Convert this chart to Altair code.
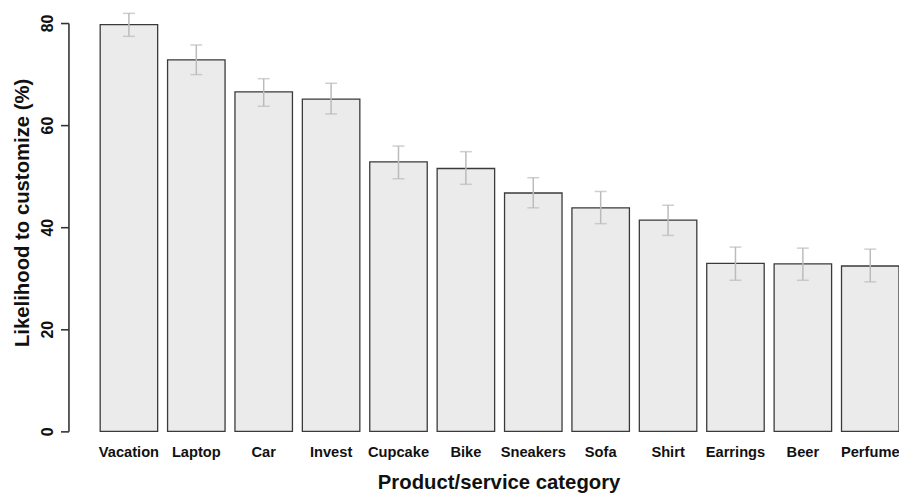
import altair as alt
import pandas as pd

categories = ["Vacation", "Laptop", "Car", "Invest", "Cupcake", "Bike",
              "Sneakers", "Sofa", "Shirt", "Earrings", "Beer", "Perfume"]
means = [79.7, 72.8, 66.5, 65.1, 52.8, 51.5, 46.7, 43.8, 41.4, 32.9, 32.8, 32.4]
err_lo = [77.4, 69.9, 63.7, 62.2, 49.5, 48.4, 43.8, 40.7, 38.4, 29.6, 29.6, 29.3]
err_hi = [81.9, 75.7, 69.1, 68.2, 55.9, 54.8, 49.7, 47.0, 44.3, 36.1, 35.9, 35.7]
y_ticks = [0, 20, 40, 60, 80]

df = pd.DataFrame({"cat": categories, "mean": means, "lo": err_lo, "hi": err_hi})

FONT = "Liberation Sans"

x_scale = alt.Scale(range=[32, 838], paddingInner=10 / 68, paddingOuter=0)
y_scale = alt.Scale(domain=[0, 80], nice=False, zero=True)

x_enc = alt.X(
    "cat:N", sort=categories, scale=x_scale,
    axis=alt.Axis(
        title="Product/service category", labelAngle=0, domain=False, ticks=False,
        labelPadding=13, labelFont=FONT, labelFontSize=14.8, labelFontWeight="bold",
        labelColor="#111111",
        titleFont=FONT, titleFontSize=20.5, titleFontWeight="bold", titleColor="#111111",
        titleX=434, titleY=57.5, titleBaseline="alphabetic", titleAlign="center",
        grid=False,
    ),
)

bars = alt.Chart(df).mark_bar(
    fill="#ebebeb", stroke="#3a3a3a", strokeWidth=1.3
).encode(
    x=x_enc,
    y=alt.Y(
        "mean:Q", scale=y_scale,
        axis=alt.Axis(
            title="Likelihood to customize (%)", values=y_ticks, grid=False,
            domain=True, domainColor="#333333", domainWidth=1.6,
            ticks=True, tickSize=8, tickColor="#333333", tickWidth=1.6,
            labelAngle=270, labelAlign="center", labelBaseline="alphabetic",
            labelPadding=8, labelFont=FONT, labelFontSize=16, labelFontWeight="bold",
            labelColor="#111111",
            titleFont=FONT, titleFontSize=20.5, titleFontWeight="bold", titleColor="#111111",
            titleAngle=270, titleX=-40, titleY=191, titleAlign="center",
            titleBaseline="alphabetic",
        ),
    ),
)

rules = alt.Chart(df).mark_rule(color="#bbbbbb", strokeWidth=1.5).encode(
    x=alt.X("cat:N", sort=categories),
    y=alt.Y("lo:Q", scale=y_scale),
    y2="hi:Q",
)

cap_lo = alt.Chart(df).mark_tick(
    color="#bbbbbb", size=12, thickness=1.5, orient="horizontal"
).encode(x=alt.X("cat:N", sort=categories), y=alt.Y("lo:Q", scale=y_scale))

cap_hi = alt.Chart(df).mark_tick(
    color="#bbbbbb", size=12, thickness=1.5, orient="horizontal"
).encode(x=alt.X("cat:N", sort=categories), y=alt.Y("hi:Q", scale=y_scale))

chart = alt.layer(bars, rules, cap_lo, cap_hi).properties(
    width=838, height=412,
    background="white",
    autosize=alt.AutoSizeParams(type="none"),
    padding={"left": 61, "top": 13, "right": 0, "bottom": 60},
).configure_view(
    stroke="transparent", strokeWidth=0
).configure_axis(grid=False)

chart.save("out.html", embed_options={"renderer": "svg", "actions": False})
